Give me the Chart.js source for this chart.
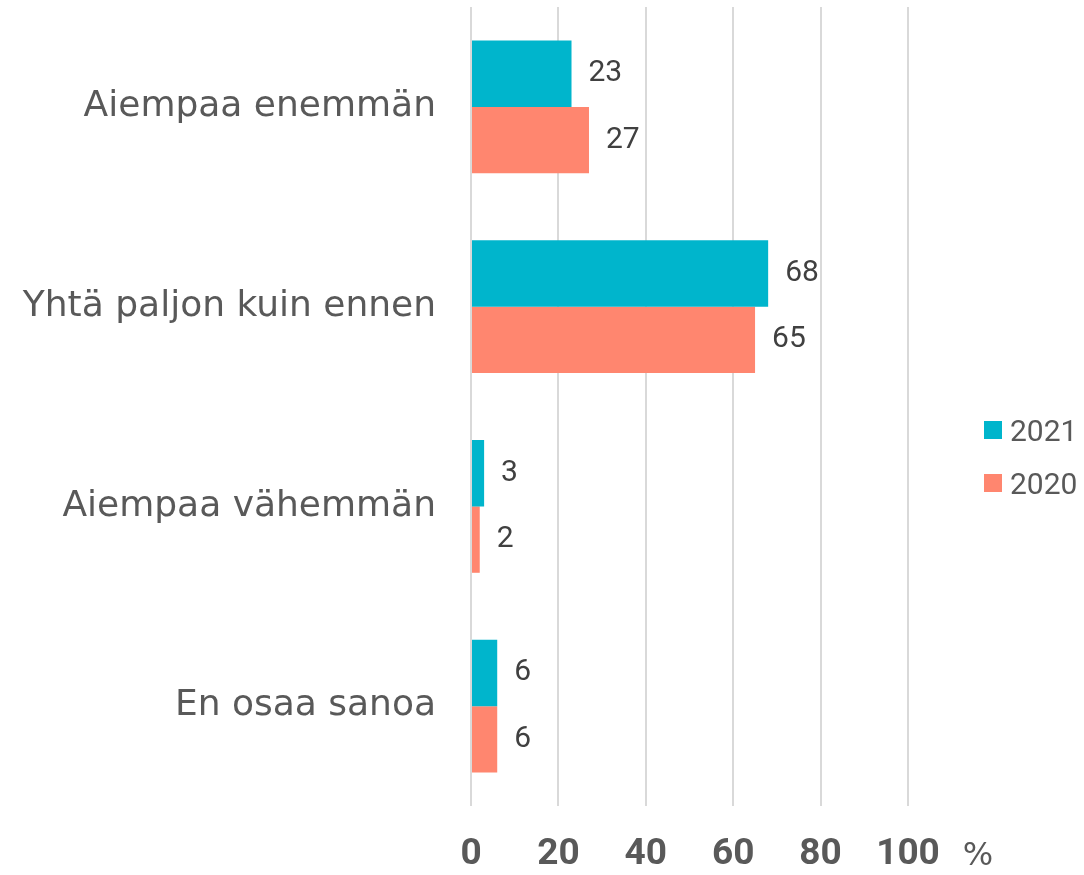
<!DOCTYPE html>
<html>
<head>
<meta charset="utf-8">
<script src="https://cdn.jsdelivr.net/npm/chart.js@4/dist/chart.umd.min.js"></script>
<style>
  body { margin: 0; background: #fff; }
  #wrap { position: relative; width: 1084px; height: 875px; }
  #legend { position: absolute; left: 984px; top: 414px; font-family: Roboto, sans-serif; font-size: 30px; color: #595959; }
  .item { display: flex; align-items: center; height: 32px; margin-bottom: 21px; }
  .box { width: 18px; height: 18px; margin-right: 8px; }
</style>
</head>
<body>
<div id="wrap">
  <canvas id="chart"></canvas>
  <div id="legend"></div>
</div>
<script>
const categories = ['Aiempaa enemmän', 'Yhtä paljon kuin ennen', 'Aiempaa vähemmän', 'En osaa sanoa'];
const values2021 = [23, 68, 3, 6];
const values2020 = [27, 65, 2, 6];
const seriesNames = ['2021', '2020'];
const seriesColors = ['#00B5CC', '#FF866F'];

// value labels to the right of each bar
const valueLabels = {
    id: 'valueLabels',
    afterDatasetsDraw(chart) {
        const ctx = chart.ctx;
        ctx.save();
        ctx.font = '30px Roboto';
        ctx.fillStyle = '#404040';
        ctx.textAlign = 'left';
        ctx.textBaseline = 'middle';
        chart.data.datasets.forEach((ds, i) => {
            chart.getDatasetMeta(i).data.forEach((bar, j) => {
                ctx.fillText(ds.data[j], bar.x + 17, bar.y);
            });
        });
        ctx.restore();
    }
};

// unit sign after the last tick
const unitSign = {
    id: 'unitSign',
    afterDraw(chart) {
        const ctx = chart.ctx;
        ctx.save();
        ctx.font = '32px "DejaVu Sans"';
        ctx.fillStyle = '#595959';
        ctx.textAlign = 'center';
        ctx.textBaseline = 'middle';
        ctx.fillText('%', 978, 857);
        ctx.restore();
    }
};

new Chart(document.getElementById('chart'), {
    type: 'bar',
    data: {
        labels: categories,
        datasets: [
            { label: seriesNames[0], data: values2021, backgroundColor: seriesColors[0] },
            { label: seriesNames[1], data: values2020, backgroundColor: seriesColors[1] }
        ]
    },
    options: {
        indexAxis: 'y',
        responsive: true,
        maintainAspectRatio: false,
        animation: false,
        categoryPercentage: 0.665,
        barPercentage: 1,
        layout: { padding: { top: 7, right: 176, bottom: 0, left: 0 } },
        plugins: {
            legend: { display: false },
            tooltip: { enabled: false }
        },
        scales: {
            x: {
                min: 0,
                max: 100,
                ticks: {
                    stepSize: 20,
                    padding: 27,
                    color: '#595959',
                    font: { family: 'Roboto', size: 37, weight: 'bold' }
                },
                grid: { color: '#d9d9d9', lineWidth: 2, drawTicks: false },
                border: { display: false },
                afterFit(scale) { scale.height = 69; }
            },
            y: {
                ticks: {
                    padding: 35,
                    color: '#595959',
                    font: { family: 'DejaVu Sans', size: 36 }
                },
                grid: { display: false, drawTicks: false },
                border: { display: false },
                afterFit(scale) {
                    scale.width = 471;
                    scale.paddingTop = 0;
                    scale.paddingBottom = 0;
                }
            }
        }
    },
    plugins: [valueLabels, unitSign]
});

const legend = document.getElementById('legend');
seriesNames.forEach((name, i) => {
    const item = document.createElement('div');
    item.className = 'item';
    item.innerHTML = '<span class="box" style="background:' + seriesColors[i] + '"></span>' + name;
    legend.appendChild(item);
});
</script>
</body>
</html>
